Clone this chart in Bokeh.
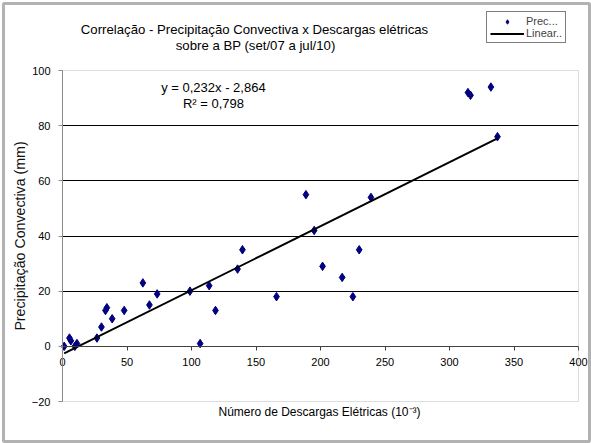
from bokeh.plotting import figure
from bokeh.models import (FixedTicker, Label, Legend, LegendItem, BoxAnnotation,
                          ColumnDataSource)
from bokeh.embed import file_html
from bokeh.resources import INLINE

# ---- data ----
descargas = [1.3, 5.4, 6.5, 9.6, 11.2, 26.7, 30.2, 33.3, 34.4, 38.5, 47.8, 62.3,
             67.4, 73.4, 98.8, 106.7, 113.7, 118.6, 135.7, 139.5, 165.9, 188.7,
             195.1, 201.6, 216.8, 225.1, 230.0, 239.1, 314.3, 316.3, 332.1, 337.2]
precip = [0, 3, 2, 0, 1, 3, 7, 13, 14, 10, 13, 23,
          15, 19, 20, 1, 22, 13, 28, 35, 18, 55,
          42, 29, 25, 18, 35, 54, 92, 91, 94, 76]
slope = 0.232
intercept = -2.864
x_ticks = [0, 50, 100, 150, 200, 250, 300, 350, 400]
y_ticks = [-20, 0, 20, 40, 60, 80, 100]
grid_ticks = [20, 40, 60, 80]

FONT = "Liberation Sans"
W, H = 591, 443
# plot-area placement in pixels (frame covers the whole canvas)
PL, PR, PT, PB = 62, 578, 70, 401
xs = (PR - PL) / 400.0
ys = (PB - PT) / 120.0
x_start = 0 - PL / xs
x_end = 400 + (W - PR) / xs
y_end = 100 + PT / ys
y_start = -20 - (H - PB) / ys

p = figure(width=W, height=H, x_range=(x_start, x_end), y_range=(y_start, y_end),
           output_backend="svg", toolbar_location=None, min_border=0,
           background_fill_color="white", border_fill_color="white")
p.outline_line_color = None

# axes at fixed positions inside the frame
p.xaxis.fixed_location = 0
p.yaxis.fixed_location = 0
p.xaxis.bounds = (0, 400)
p.yaxis.bounds = (-20, 100)
p.xaxis.ticker = FixedTicker(ticks=x_ticks)
p.yaxis.ticker = FixedTicker(ticks=y_ticks)
for ax in (p.xaxis, p.yaxis):
    ax.major_label_text_font = FONT
    ax.major_label_text_font_size = "11px"
    ax.major_label_text_color = "black"
    ax.minor_tick_line_color = None
    ax.major_tick_in = 0
    ax.major_tick_out = 4
p.xaxis.axis_line_color = "#404040"
p.xaxis.major_tick_line_color = "#404040"
p.xaxis.major_label_standoff = 8
p.yaxis.axis_line_color = "#8c8c8c"
p.yaxis.major_tick_line_color = "#8c8c8c"
p.yaxis.major_label_standoff = 8
p.yaxis.axis_label = "Precipitação Convectiva (mm)"
p.yaxis.axis_label_text_font = FONT
p.yaxis.axis_label_text_font_size = "14.2px"
p.yaxis.axis_label_text_font_style = "normal"
p.yaxis.axis_label_text_color = "#111111"
p.yaxis.axis_label_standoff = 1

p.xgrid.grid_line_color = None
p.ygrid.ticker = FixedTicker(ticks=grid_ticks)
p.ygrid.cross_bounds = (0, 400)
p.ygrid.grid_line_color = "black"
p.ygrid.grid_line_width = 1

# plot-area border
p.add_layout(BoxAnnotation(left=0, right=400, bottom=-20, top=100,
                           fill_alpha=0, line_color="#8c8c8c", line_width=1))

# data
src = ColumnDataSource(dict(x=descargas, y=precip))
pts = p.scatter("x", "y", source=src, marker="diamond",
                size=8.5, fill_color="#000080", line_color="#000080")

x0, x1 = min(descargas), max(descargas)
lsrc = ColumnDataSource(dict(x=[x0, x1], y=[slope * x0 + intercept, slope * x1 + intercept]))
ln = p.line("x", "y", source=lsrc, line_color="black", line_width=2)

# equation text
p.add_layout(Label(x=117, y=94, text="y = 0,232x - 2,864", text_align="center",
                   text_baseline="middle", text_font=FONT, text_font_size="13px",
                   text_color="black"))
p.add_layout(Label(x=117, y=88, text="R² = 0,798", text_align="center",
                   text_baseline="middle", text_font=FONT, text_font_size="13px",
                   text_color="black"))

def screen_label(x, y, text, size):
    return Label(x=x, y=H - y, x_units="screen", y_units="screen", text=text,
                 text_align="center", text_baseline="middle", text_font=FONT,
                 text_font_size=size, text_color="black")

# title (two lines)
p.add_layout(screen_label(254, 29, "Correlação - Precipitação Convectiva x Descargas elétricas", "13.2px"))
p.add_layout(screen_label(257, 45, "sobre a BP (set/07  a jul/10)", "13.2px"))
# x axis title
p.add_layout(screen_label(319, 411, "Número de Descargas Elétricas (10⁻³)", "12px"))

# legend
legend = Legend(items=[LegendItem(label="Prec...", renderers=[pts]),
                       LegendItem(label="Linear..", renderers=[ln])],
                location=(486, H - 43), orientation="vertical",
                label_text_font=FONT, label_text_font_size="11px",
                label_height=11, glyph_height=11, glyph_width=34,
                label_standoff=2, padding=3, spacing=0, margin=0,
                border_line_color="black", border_line_width=1,
                background_fill_color="white", background_fill_alpha=1)
p.add_layout(legend, "center")

# outer frame
p.add_layout(BoxAnnotation(left=3, right=589, top=3, bottom=441,
                           left_units="canvas", right_units="canvas",
                           top_units="canvas", bottom_units="canvas",
                           fill_alpha=0, line_color="black", line_width=3))

open("out.html", "w").write(file_html(p, INLINE))
